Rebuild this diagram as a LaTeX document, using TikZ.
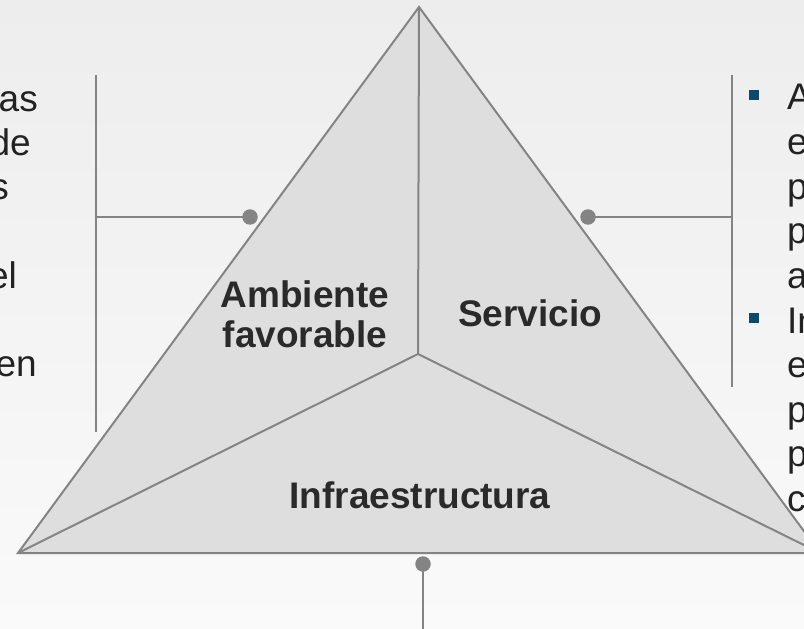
\documentclass[tikz,border=0pt]{standalone}
\usepackage{fontspec}
\setmainfont{Liberation Sans}
\definecolor{bgtop}{HTML}{EDEDED}
\definecolor{bgbot}{HTML}{FAFAFA}
\definecolor{trifill}{HTML}{DEDEDE}
\definecolor{linegray}{HTML}{848484}
\definecolor{txt}{HTML}{222222}
\definecolor{lbltxt}{HTML}{2A2A2A}
\definecolor{bulletblue}{HTML}{0B4A6E}
\begin{document}
\begin{tikzpicture}[x=1bp,y=-1bp,
  tri/.style={fill=trifill, draw=linegray, line width=2bp, line join=miter},
  edge/.style={draw=linegray, line width=2bp},
  conn/.style={draw=linegray, line width=2bp},
  dot/.style={circle, fill=linegray, inner sep=0pt, minimum size=15.5bp},
  lbl/.style={inner sep=0pt, text=lbltxt, font=\fontsize{37bp}{40bp}\selectfont\bfseries},
  body/.style={inner sep=0pt, text=txt, font=\fontsize{37bp}{44.6bp}\selectfont},
  bulletsq/.style={rectangle, fill=bulletblue, inner sep=0pt, minimum size=10.5bp}]
\useasboundingbox (0,0) rectangle (804,629);
\clip (0,0) rectangle (804,629);
\shade[top color=bgtop, bottom color=bgbot] (0,0) rectangle (804,629);
% triangle
\coordinate (apex) at (419,7);
\coordinate (lv) at (18,553);
\coordinate (rv) at (820,553);
\coordinate (ctr) at (418,354);
\path[tri] (apex) -- (lv) -- (rv) -- cycle;
\draw[edge] (ctr) -- (apex);
\draw[edge] (ctr) -- (lv);
\draw[edge] (ctr) -- (rv);
% labels
\node[lbl, anchor=base] (amb) at (305,307) {Ambiente};
\node[lbl, anchor=base] (fav) at (305,347) {favorable};
\node[lbl, anchor=base] (serv) at (530,326) {Servicio};
\node[lbl, anchor=base] (infra) at (420,508) {Infraestructura};
% left bracket
\coordinate (lt) at (96,75);
\coordinate (lb) at (96,432);
\coordinate (lm) at (96,217);
\node[dot] (dl) at (250,217) {};
\draw[conn] (lt) -- (lb);
\draw[conn] (lm) -- (dl.center);
% right bracket
\coordinate (rt) at (732,75);
\coordinate (rb) at (732,387);
\coordinate (rm) at (732,217);
\node[dot] (dr) at (588,217) {};
\draw[conn] (rt) -- (rb);
\draw[conn] (rm) -- (dr.center);
% bottom connector
\node[dot] (db) at (423,564) {};
\coordinate (bend) at (423,640);
\draw[conn] (db.center) -- (bend);
% left text fragments
\node[body, anchor=base east] (l1) at (38,112) {as};
\node[body, anchor=base east] (l2) at (31,156) {de};
\node[body, anchor=base east] (l3) at (9,200) {s};
\node[body, anchor=base east] (l5) at (17,288) {el};
\node[body, anchor=base east] (l7) at (37,376) {en};
% right bullets
\node[bulletsq] (b1) at (754,95) {};
\node[bulletsq] (b2) at (754,318) {};
\node[body, anchor=base west] (r1) at (787,110) {A};
\node[body, anchor=base west] (r2) at (787,154.6) {e};
\node[body, anchor=base west] (r3) at (787,199.2) {p};
\node[body, anchor=base west] (r4) at (787,243.8) {p};
\node[body, anchor=base west] (r5) at (787,288.4) {a};
\node[body, anchor=base west] (r6) at (787,333) {In};
\node[body, anchor=base west] (r7) at (787,377.6) {e};
\node[body, anchor=base west] (r8) at (787,422.2) {p};
\node[body, anchor=base west] (r9) at (787,466.8) {p};
\node[body, anchor=base west] (r10) at (787,511.4) {c};
\end{tikzpicture}
\end{document}
